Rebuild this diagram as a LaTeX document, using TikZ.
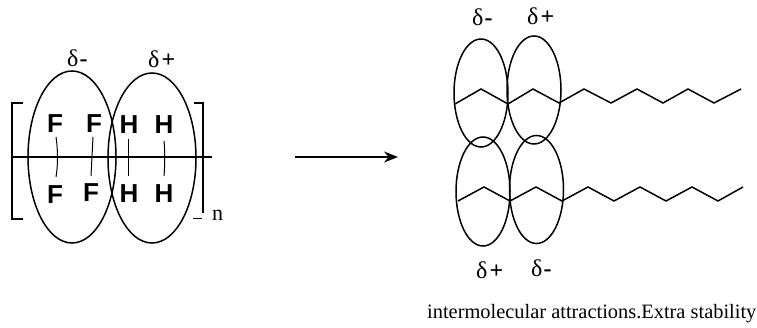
\documentclass[tikz,border=0pt]{standalone}
\usepackage{fontspec}
\setmainfont{Liberation Serif}
\newfontfamily\hfont{Liberation Sans}
\usetikzlibrary{arrows.meta}
\tikzset{
  lobe/.style={draw=black,line width=1.5pt},
  chain/.style={draw=black,line width=1.5pt,line join=miter},
  atom/.style={font=\hfont\bfseries\fontsize{26}{26}\selectfont,inner sep=0pt,text=black},
  bond/.style={draw=black,line width=1pt},
  delta/.style={font=\fontsize{24}{24}\selectfont,inner sep=0pt,anchor=base west,text=black},
}
\newcommand{\dplus}{δ\kern2pt\textbf{+}}
\newcommand{\dminus}{δ\kern1pt\textbf{-}}
\begin{document}
\begin{tikzpicture}[x=1pt,y=-1pt]
\useasboundingbox (0,0) rectangle (757,328);
% left molecule
\draw[lobe] (72,157) ellipse [x radius=44,y radius=86];
\draw[lobe] (152,158) ellipse [x radius=44,y radius=85];
\coordinate (ml) at (11,157); \coordinate (mr) at (212,157);
\draw[line width=1.2pt] (ml) -- (mr);
\draw[line width=1.3pt] (23,103) -- (12,103) -- (12,219) -- (23,219);
\draw[line width=1.3pt] (194,103) -- (203,103) -- (203,213);
\draw[line width=1pt] (193,219) -- (202,219);
\node[atom] (f1) at (55,124) {F};
\node[atom] (f2) at (94,124) {F};
\node[atom] (f3) at (55,195) {F};
\node[atom] (f4) at (91,193) {F};
\node[atom] (h1) at (129,125) {H};
\node[atom] (h2) at (164,125) {H};
\node[atom] (h3) at (129,194) {H};
\node[atom] (h4) at (164,194) {H};
\draw[bond] (56,137) .. controls (58,150) and (58,165) .. (56,177);
\draw[bond] (93,137) -- (91,176);
\draw[bond] (128,139) -- (128,176);
\draw[bond] (164,141) .. controls (165,150) and (165,165) .. (164,176);
\node[delta] (d1) at (67,67) {\dminus};
\node[delta] (d2) at (148,68) {\dplus};
\node[font=\fontsize{22}{22}\selectfont,inner sep=0pt,anchor=base west] (n) at (212,221) {n};
% arrow
\coordinate (a1) at (295,157); \coordinate (a2) at (398,157);
\draw[line width=1.4pt,-{Stealth[length=14pt,width=11pt]}] (a1) -- (a2);
% right
\draw[lobe] (481,93) ellipse [x radius=27,y radius=54];
\draw[lobe] (534,90) ellipse [x radius=27,y radius=54];
\draw[lobe] (483,191.5) ellipse [x radius=27,y radius=54.5];
\draw[lobe] (536.5,189.5) ellipse [x radius=27,y radius=54];
\draw[chain] (455,104) -- (481,89) -- (508,104) -- (533,89) -- (559,103) -- (584,89) -- (611,103) -- (637,89) -- (663,103) -- (688,89) -- (714,103) -- (741,89);
\draw[chain] (458,201) -- (484,187) -- (510,201) -- (536,187) -- (562,201) -- (588,187) -- (614,201) -- (640,187) -- (666,201) -- (692,187) -- (718,201) -- (743,187);
\node[delta] (d3) at (472,26) {\dminus};
\node[delta] (d4) at (527,25) {\dplus};
\node[delta] (d5) at (476,279) {\dplus};
\node[delta] (d6) at (531,277) {\dminus};
\node[font=\fontsize{20.4}{20}\selectfont,inner sep=0pt,anchor=base west] (cap) at (427,319) {intermolecular attractions.Extra stability};
\end{tikzpicture}
\end{document}
